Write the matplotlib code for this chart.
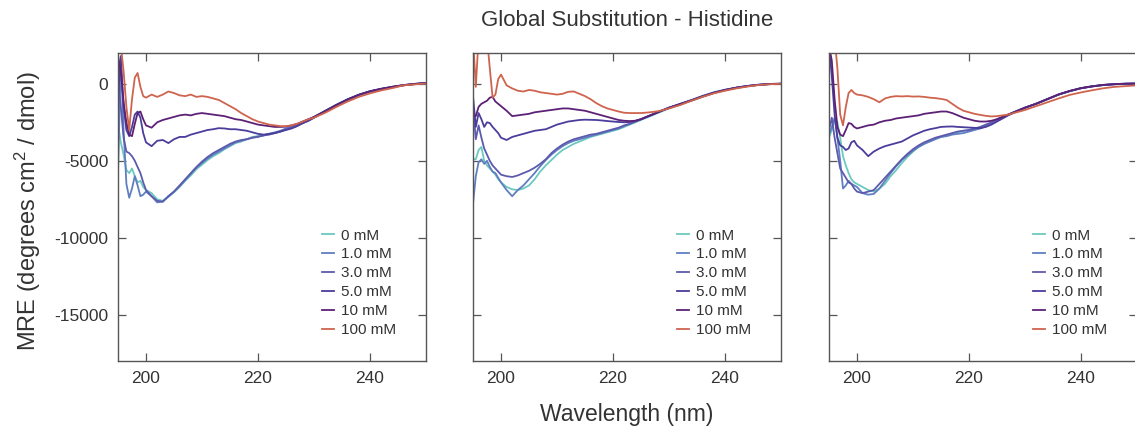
import numpy as np
import matplotlib
matplotlib.use("Agg")
import matplotlib.pyplot as plt

plt.rcParams['font.family'] = ['Liberation Sans', 'DejaVu Sans']
plt.rcParams['mathtext.fontset'] = 'custom'
plt.rcParams['mathtext.rm'] = 'Liberation Sans'
plt.rcParams['mathtext.it'] = 'Liberation Sans:italic'
plt.rcParams['axes.unicode_minus'] = False

# ---------------- data ----------------
wavelength = [195, 195.5, 196, 196.5, 197, 197.5, 198, 198.5, 199, 199.5, 200,
              201, 202, 203, 204, 205, 206, 207, 208, 209, 210,
              211, 212, 213, 214, 215, 216, 217, 218, 219, 220,
              221, 222, 223, 224, 225, 226, 227, 228, 229, 230,
              232, 234, 236, 238, 240, 242, 244, 246, 248, 250]

labels = ["0 mM", "1.0 mM", "3.0 mM", "5.0 mM", "10 mM", "100 mM"]
colors = ["#6cc9c0", "#5f7ec2", "#5d5aae", "#4a3d9c", "#5c2176", "#cf644e"]

# Panel 1
p1_0mM = [-2600, -3800, -4600, -5600, -5800, -5500, -6000, -6400, -6300, -6700, -6900,
          -7100, -7500, -7600, -7350, -7050, -6700, -6300, -5950, -5550, -5250,
          -4950, -4700, -4500, -4250, -4050, -3850, -3750, -3600, -3450, -3400,
          -3350, -3250, -3200, -3100, -2950, -2850, -2700, -2550, -2350, -2150,
          -1750, -1350, -1000, -700, -480, -330, -200, -90, -10, 40]
p1_1mM = [-5800, 1500, -3000, -6500, -7400, -6800, -6000, -6600, -7300, -7200, -7000,
          -7300, -7700, -7650, -7300, -7000, -6650, -6250, -5850, -5450, -5150,
          -4850, -4600, -4400, -4200, -4000, -3800, -3700, -3600, -3500, -3420,
          -3350, -3250, -3150, -3050, -2900, -2800, -2650, -2500, -2350, -2150,
          -1780, -1380, -1020, -720, -500, -340, -210, -100, -20, 30]
p1_3mM = [300, -1500, -3500, -4400, -4500, -4700, -5000, -5400, -5800, -6400, -6900,
          -7300, -7600, -7650, -7300, -7000, -6600, -6200, -5800, -5400, -5050,
          -4750, -4500, -4300, -4100, -3900, -3750, -3650, -3600, -3500, -3450,
          -3350, -3300, -3200, -3100, -2950, -2850, -2700, -2550, -2400, -2200,
          -1800, -1400, -1050, -740, -510, -350, -220, -100, -20, 30]
p1_5mM = [-1000, 1800, -1500, -3000, -3400, -2800, -2000, -1800, -2200, -3200, -3800,
          -4050, -3700, -3650, -3850, -3600, -3450, -3450, -3300, -3200, -3100,
          -3000, -2950, -2880, -2900, -2950, -2950, -3000, -3050, -3150, -3250,
          -3300, -3250, -3200, -3100, -3000, -2900, -2750, -2550, -2400, -2200,
          -1780, -1380, -1020, -720, -490, -330, -200, -90, -10, 40]
p1_10mM = [1800, 800, -1200, -2500, -3300, -3400, -2600, -1900, -1800, -2300, -2700,
           -2850, -2500, -2350, -2250, -2150, -2050, -2000, -2050, -1950, -1900,
           -1950, -2000, -2050, -2100, -2200, -2300, -2350, -2450, -2550, -2650,
           -2700, -2750, -2800, -2800, -2780, -2700, -2600, -2450, -2300, -2150,
           -1760, -1370, -1010, -710, -480, -320, -190, -80, 0, 60]
p1_100mM = [2500, 2500, 800, -1500, -3000, -1000, 400, 700, -200, -800, -900,
            -700, -850, -700, -500, -600, -750, -800, -700, -850, -800,
            -850, -950, -1050, -1250, -1450, -1650, -1900, -2100, -2300, -2450,
            -2550, -2650, -2700, -2750, -2750, -2700, -2600, -2450, -2300, -2200,
            -1880, -1500, -1150, -850, -620, -430, -280, -100, -40, 20]

# Panel 2
p2_0mM = [-4900, -4900, -4300, -4100, -5000, -5300, -5500, -5700, -5900, -6200, -6400,
          -6700, -6850, -6900, -6800, -6600, -6200, -5700, -5300, -4950, -4600,
          -4300, -4100, -3900, -3750, -3600, -3450, -3350, -3250, -3150, -3050,
          -2950, -2800, -2650, -2500, -2350, -2200, -2050, -1900, -1750, -1600,
          -1350, -1100, -850, -600, -420, -270, -150, -70, -20, 0]
p2_1mM = [-7800, -6000, -5100, -4900, -5200, -5000, -5400, -5700, -5800, -6100, -6400,
          -6900, -7300, -6900, -6600, -6200, -5800, -5350, -4950, -4600, -4300,
          -4050, -3850, -3700, -3600, -3500, -3400, -3300, -3200, -3100, -3000,
          -2900, -2750, -2600, -2450, -2300, -2150, -2000, -1850, -1700, -1550,
          -1300, -1050, -780, -550, -380, -250, -140, -60, -10, 10]
p2_3mM = [-1500, -3600, -2700, -3500, -4200, -4600, -5000, -5300, -5500, -5700, -5900,
          -6000, -6050, -5950, -5800, -5650, -5450, -5200, -4900, -4500, -4200,
          -3950, -3750, -3600, -3500, -3400, -3300, -3250, -3150, -3050, -2950,
          -2850, -2700, -2600, -2450, -2300, -2150, -2000, -1850, -1700, -1560,
          -1320, -1080, -820, -590, -410, -260, -150, -70, -20, 0]
p2_5mM = [-800, -2800, -1900, -2300, -2800, -2500, -2550, -2800, -3000, -3200, -3500,
          -3650, -3450, -3350, -3250, -3150, -3050, -3000, -2950, -2800, -2650,
          -2550, -2450, -2400, -2350, -2330, -2340, -2350, -2380, -2420, -2450,
          -2480, -2500, -2480, -2400, -2300, -2150, -2000, -1850, -1700, -1550,
          -1310, -1070, -810, -580, -400, -250, -140, -60, -10, 10]
p2_10mM = [-2000, -2100, -1500, -1300, -1200, -1100, -900, -850, -1150, -1300, -1450,
           -1750, -2100, -2050, -2000, -1950, -1850, -1800, -1750, -1700, -1650,
           -1600, -1600, -1650, -1700, -1750, -1850, -1950, -2050, -2150, -2250,
           -2350, -2400, -2420, -2400, -2300, -2150, -2000, -1850, -1700, -1560,
           -1320, -1080, -820, -590, -410, -260, -150, -70, -20, 0]
p2_100mM = [3000, -200, 3000, 3000, 2500, 3000, 1000, -900, -700, 300, 600,
            -100, -300, -450, -500, -400, -450, -550, -600, -650, -700,
            -650, -520, -500, -650, -800, -1000, -1250, -1450, -1600, -1700,
            -1800, -1880, -1900, -1900, -1900, -1870, -1830, -1780, -1700, -1600,
            -1380, -1100, -850, -620, -450, -300, -180, -80, -30, 0]

# Panel 3
p3_0mM = [-3500, -3000, -2300, -2500, -3500, -4700, -5300, -5800, -6200, -6400, -6500,
          -6700, -6900, -7000, -6800, -6500, -6000, -5600, -5150, -4750, -4400,
          -4100, -3900, -3700, -3550, -3450, -3350, -3250, -3150, -3050, -3000,
          -2950, -2880, -2750, -2550, -2350, -2150, -2000, -1850, -1700, -1550,
          -1300, -1000, -700, -480, -280, -170, -80, -30, 0, 10]
p3_1mM = [-3300, -2800, -2200, -3500, -5000, -6800, -6600, -6300, -6500, -6600, -6700,
          -7100, -7200, -7150, -6800, -6300, -5800, -5350, -4950, -4650, -4350,
          -4100, -3900, -3750, -3600, -3450, -3400, -3300, -3250, -3200, -3100,
          -3000, -2900, -2750, -2550, -2350, -2150, -2000, -1850, -1700, -1550,
          -1290, -990, -690, -470, -280, -160, -70, -20, 10, 20]
p3_3mM = [-3000, -2200, -3500, -4500, -5500, -5800, -6100, -6400, -6500, -6800, -7000,
          -7100, -7000, -6900, -6500, -6100, -5700, -5300, -4900, -4550, -4250,
          -4000, -3800, -3650, -3500, -3400, -3300, -3200, -3100, -3050, -3000,
          -2900, -2800, -2650, -2500, -2300, -2150, -2000, -1850, -1700, -1550,
          -1300, -1000, -700, -480, -290, -170, -80, -30, 0, 10]
p3_5mM = [2500, 500, -2000, -3500, -4000, -4100, -4300, -4200, -3800, -3700, -4000,
          -4300, -4700, -4400, -4200, -4050, -3950, -3850, -3750, -3550, -3350,
          -3200, -3050, -2950, -2880, -2800, -2780, -2770, -2800, -2820, -2840,
          -2860, -2880, -2800, -2650, -2450, -2250, -2050, -1880, -1720, -1560,
          -1300, -1000, -700, -470, -290, -170, -80, -30, 0, 10]
p3_10mM = [2500, 1500, -1000, -2800, -3300, -3400, -3000, -2550, -2600, -2800, -2900,
           -2800, -2700, -2650, -2500, -2400, -2350, -2250, -2200, -2150, -2100,
           -2050, -1950, -1900, -1850, -1800, -1800, -1900, -2050, -2200, -2300,
           -2400, -2450, -2450, -2400, -2300, -2150, -2000, -1850, -1700, -1550,
           -1290, -990, -690, -460, -280, -160, -70, -20, 10, 20]
p3_100mM = [3000, 3000, 3000, 1000, -2000, -2700, -1500, -600, -400, -600, -700,
            -750, -850, -1000, -1200, -950, -850, -800, -820, -800, -830,
            -820, -850, -900, -930, -980, -1050, -1300, -1550, -1750, -1850,
            -1950, -2020, -2080, -2120, -2100, -2050, -2000, -1900, -1800, -1700,
            -1450, -1200, -950, -720, -560, -420, -290, -200, -150, -100]

panels = [
    [p1_0mM, p1_1mM, p1_3mM, p1_5mM, p1_10mM, p1_100mM],
    [p2_0mM, p2_1mM, p2_3mM, p2_5mM, p2_10mM, p2_100mM],
    [p3_0mM, p3_1mM, p3_3mM, p3_5mM, p3_10mM, p3_100mM],
]

xticks = [200, 220, 240]
yticks = [0, -5000, -10000, -15000]

# ---------------- figure ----------------
W, H = 1135, 432
fig = plt.figure(figsize=(W / 100, H / 100), dpi=100)

ax_left_px = [118, 473, 829]
ax_w_px = 308
ax_top_px, ax_bot_px = 53, 361

spine_c = "#555555"
text_c = "#333333"

for i, series in enumerate(panels):
    rect = [ax_left_px[i] / W, 1 - ax_bot_px / H, ax_w_px / W, (ax_bot_px - ax_top_px) / H]
    ax = fig.add_axes(rect)
    for vals, lab, col in zip(series, labels, colors):
        ax.plot(wavelength, vals, color=col, lw=1.3, label=lab)
    ax.set_xlim(195, 250)
    ax.set_ylim(-18000, 2000)
    ax.set_xticks(xticks)
    ax.set_yticks(yticks)
    ax.tick_params(direction='in', top=True, right=True, length=6, width=0.9,
                   color=spine_c, labelsize=12.5, labelcolor=text_c, pad=7)
    if i > 0:
        ax.tick_params(labelleft=False)
    for sp in ax.spines.values():
        sp.set_color(spine_c)
        sp.set_linewidth(1.0)
    leg = ax.legend(loc='upper left', bbox_to_anchor=(0.662, 0.43), frameon=False,
                    fontsize=11, handlelength=0.8, handletextpad=0.45,
                    labelspacing=0.32, borderpad=0, borderaxespad=0)
    for t in leg.get_texts():
        t.set_color(text_c)

fig.text(627 / W, 1 - 20 / H, "Global Substitution - Histidine", ha='center', va='center',
         fontsize=16, color=text_c)
fig.text(627 / W, 1 - 414 / H, "Wavelength (nm)", ha='center', va='center',
         fontsize=16.5, color=text_c)
fig.text(28 / W, 1 - 211 / H, "MRE (degrees cm$^2$ / dmol)", ha='center', va='center',
         rotation=90, fontsize=17, color=text_c)

fig.savefig("out.png", dpi=100)
